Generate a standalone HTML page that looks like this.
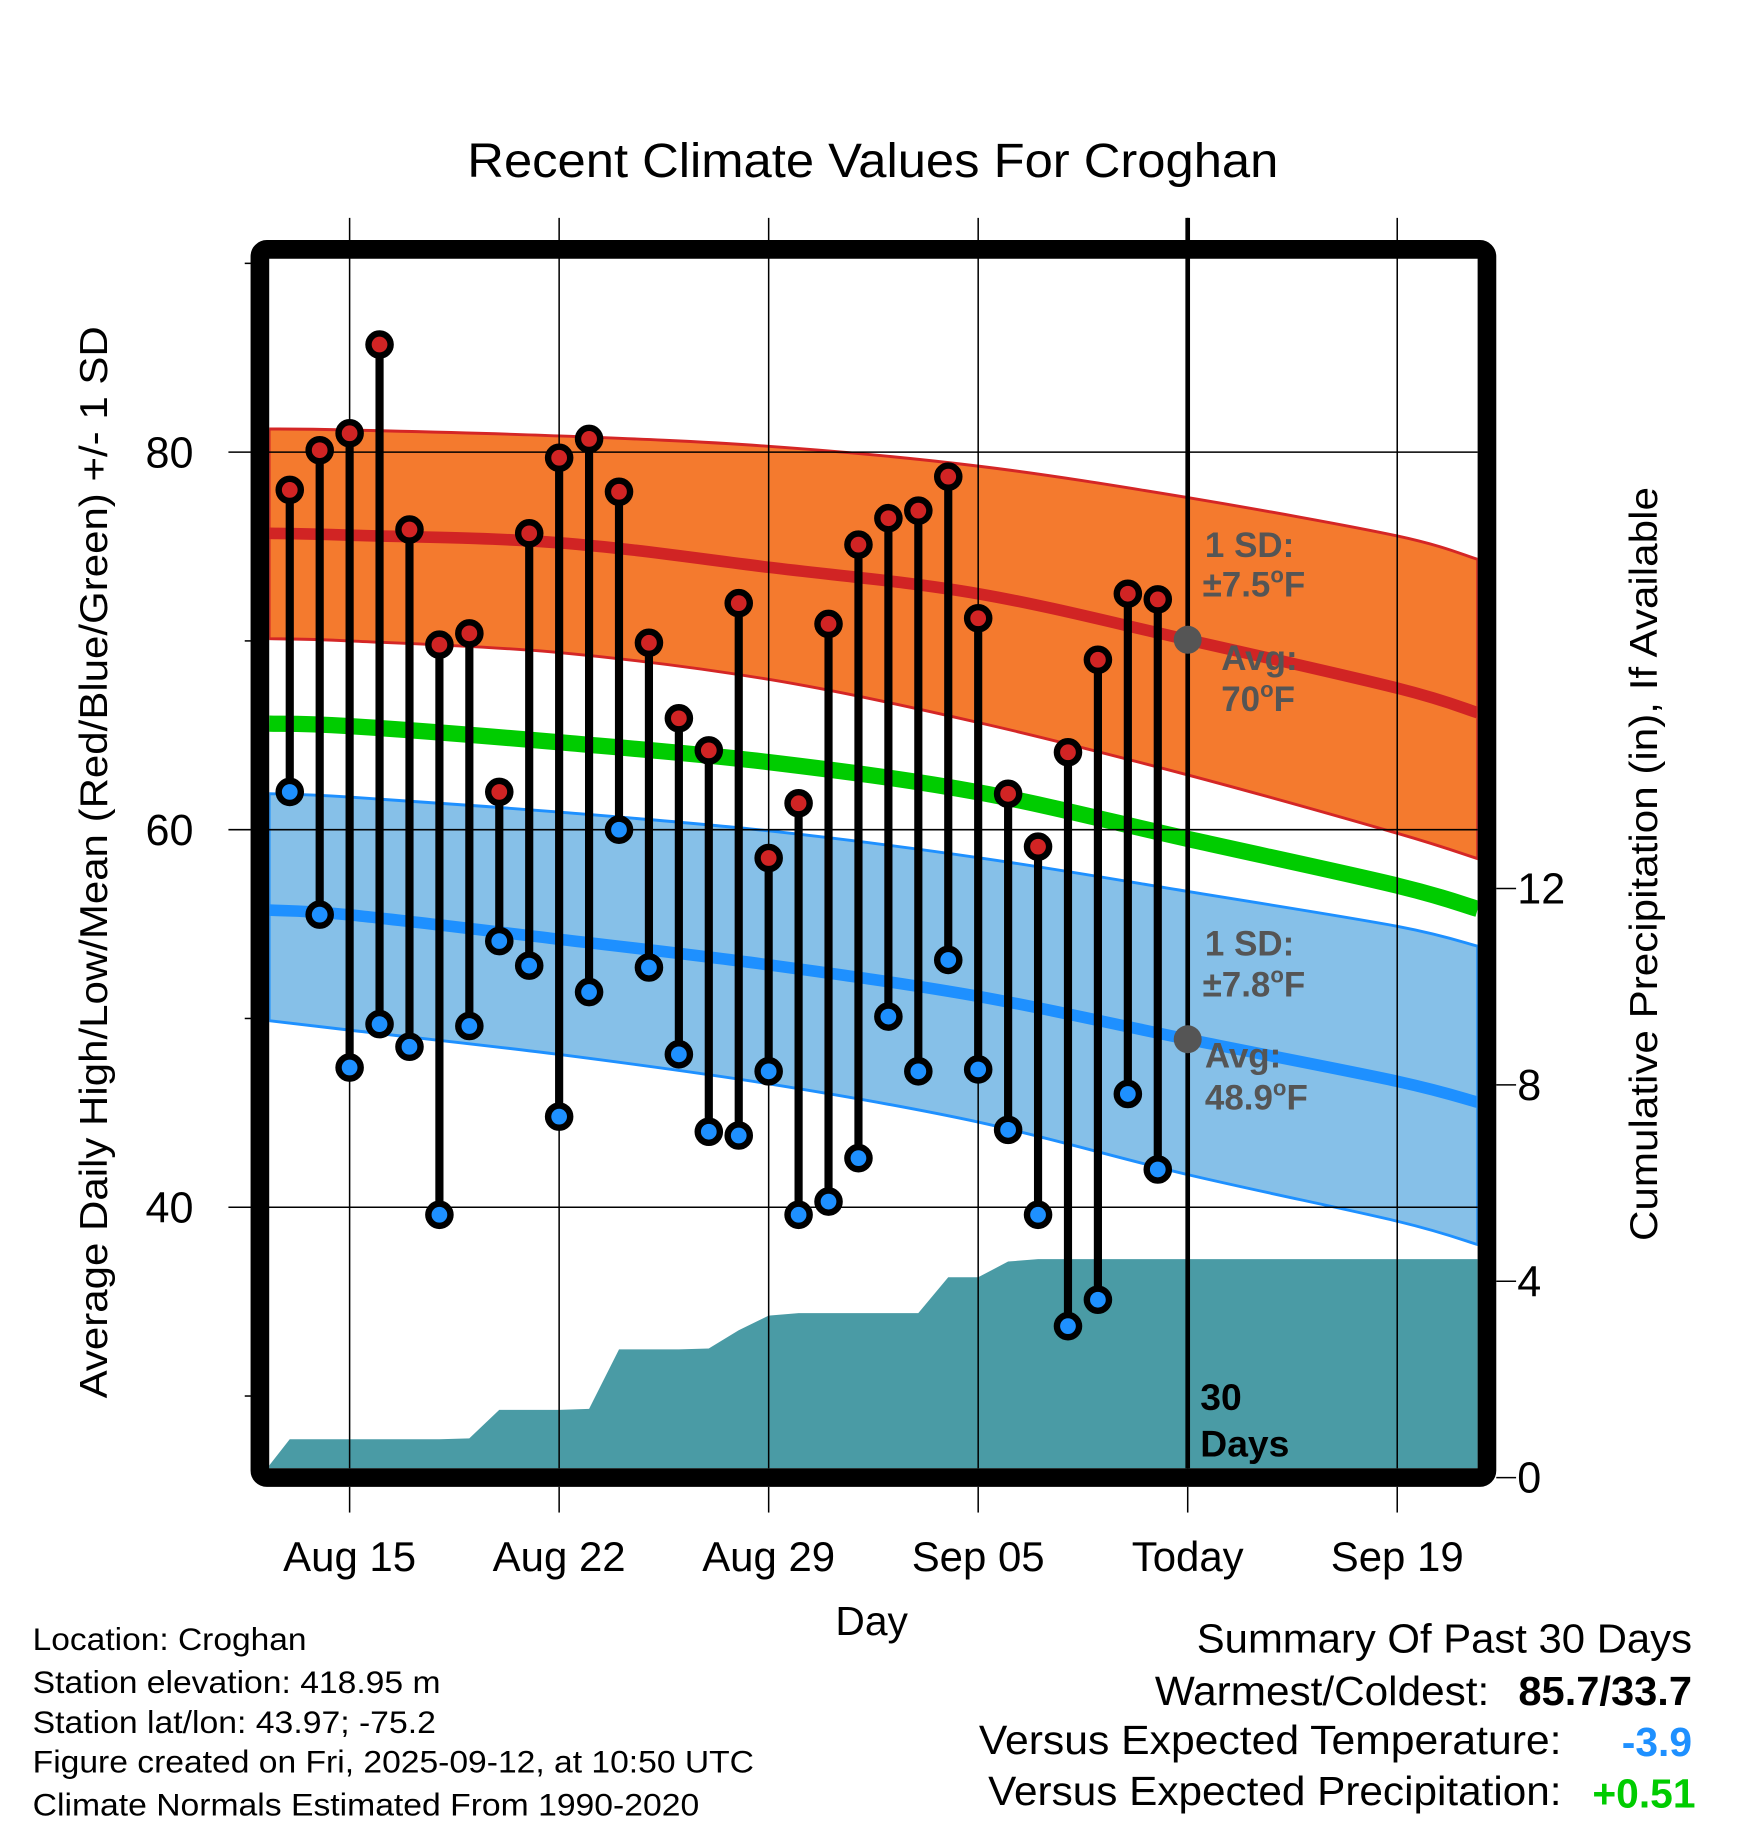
<!DOCTYPE html>
<html><head><meta charset="utf-8"><style>
html,body{margin:0;padding:0;background:#fff;}
svg{display:block;font-family:"Liberation Sans",Arial,sans-serif;}
</style></head><body>
<svg id="chart" width="1748" height="1828" viewBox="0 0 1500 1568.7" xmlns="http://www.w3.org/2000/svg">
<g id="layers"></g>
</svg>
<script>
// ---- data ----
const dayLabels = ["Aug 13","Aug 14","Aug 15","Aug 16","Aug 17","Aug 18","Aug 19","Aug 20","Aug 21","Aug 22","Aug 23","Aug 24","Aug 25","Aug 26","Aug 27","Aug 28","Aug 29","Aug 30","Aug 31","Sep 01","Sep 02","Sep 03","Sep 04","Sep 05","Sep 06","Sep 07","Sep 08","Sep 09","Sep 10","Sep 11"];
const dayOffsets = [-2,-1,0,1,2,3,4,5,6,7,8,9,10,11,12,13,14,15,16,17,18,19,20,21,22,23,24,25,26,27];
const highs = [78.0,80.1,81.0,85.7,75.9,69.8,70.4,62.0,75.7,79.7,80.7,77.9,69.9,65.9,64.2,72.0,58.5,61.4,70.9,75.1,76.5,76.9,78.7,71.2,61.9,59.1,64.1,69.0,72.5,72.2];
const lows = [62.0,55.5,47.4,49.7,48.5,39.6,49.6,54.1,52.8,44.8,51.4,60.0,52.7,48.1,44.0,43.8,47.2,39.6,40.3,42.6,50.1,47.2,53.1,47.3,44.1,39.6,33.7,35.1,46.0,42.0];
const precipDays = [-3,-2,-1,0,1,2,3,4,5,6,7,8,9,10,11,12,13,14,15,16,17,18,19,20,21,22,23,24,25,26,27,37.7];
const precipCum = [0,0.78,0.78,0.78,0.78,0.78,0.78,0.8,1.38,1.38,1.38,1.4,2.61,2.61,2.61,2.63,3.0,3.3,3.35,3.35,3.35,3.35,3.35,4.08,4.08,4.4,4.45,4.45,4.45,4.45,4.45,4.45];
const normDays = [-2.69,0,7,14,21,28,35,37.69];
const highUpper = [81.23,81.17,80.86,80.31,79.26,77.59,75.56,74.32];
const highAvg = [75.7,75.6,75.2,73.9,72.5,70.06,67.5,66.2];
const highLower = [70.12,70.0,69.38,67.96,65.68,62.9,59.81,58.46];
const meanAvg = [65.62,65.49,64.63,63.58,61.98,59.51,57.04,55.8];
const lowUpper = [61.91,61.73,60.93,59.94,58.52,56.73,54.88,53.83];
const lowAvg = [55.74,55.49,54.2,52.84,51.17,48.9,46.67,45.56];
const lowLower = [49.88,49.38,48.09,46.54,44.51,41.73,39.26,38.02];
const xTickDays = [0,7,14,21,28,35];
const xTickLabels = ["Aug 15","Aug 22","Aug 29","Sep 05","Today","Sep 19"];
const yTicks = [80,60,40];
const yMinor = [90,70,50,30];
const pTicks = [0,4,8,12];

// ---- scales ----
const X0=231,X1=1268,Y0=222,Y1=1260;
function xs(d){return 300+d*25.686;}
function ys(v){return 388+(80-v)*16.2;}
function ps(v){return 1268-v*42.13;}
const NS="http://www.w3.org/2000/svg";
const root=document.getElementById('layers');
function mk(tag,attrs,parent){const e=document.createElementNS(NS,tag);for(const k in attrs)e.setAttribute(k,attrs[k]);(parent||root).appendChild(e);return e;}
function smooth(pts,start){
  let p=start?('M'+pts[0][0].toFixed(1)+','+pts[0][1].toFixed(1)):(' L'+pts[0][0].toFixed(1)+','+pts[0][1].toFixed(1));
  for(let i=0;i<pts.length-1;i++){
    const p0=pts[Math.max(0,i-1)],p1=pts[i],p2=pts[i+1],p3=pts[Math.min(pts.length-1,i+2)];
    const c1x=p1[0]+(p2[0]-p0[0])/6,c1y=p1[1]+(p2[1]-p0[1])/6;
    const c2x=p2[0]-(p3[0]-p1[0])/6,c2y=p2[1]-(p3[1]-p1[1])/6;
    p+=' C'+c1x.toFixed(1)+','+c1y.toFixed(1)+' '+c2x.toFixed(1)+','+c2y.toFixed(1)+' '+p2[0].toFixed(1)+','+p2[1].toFixed(1);
  }
  return p;
}
function pts(ds,vs){return ds.map((d,i)=>[xs(d),ys(vs[i])]);}
function linePath(ds,vs){return smooth(pts(ds,vs),true);}
function bandPath(ds,up,lo){return smooth(pts(ds,up),true)+smooth(pts(ds,lo).reverse(),false)+' Z';}

const defs=mk('defs',{});
const cp=mk('clipPath',{id:'plotclip'},defs);
mk('rect',{x:X0,y:Y0,width:X1-X0,height:Y1-Y0},cp);
const plot=mk('g',{'clip-path':'url(#plotclip)'});

let e;
e=mk('path',{d:bandPath(normDays,highUpper,highLower),fill:'#F47A2E',stroke:'#D42626','stroke-width':2.5},plot);


e=mk('path',{d:bandPath(normDays,lowUpper,lowLower),fill:'#86C0E8',stroke:'#1E90FF','stroke-width':2.5},plot);


e=mk('path',{d:linePath(normDays,highAvg),fill:'none',stroke:'#D12424','stroke-width':10},plot);


e=mk('path',{d:linePath(normDays,meanAvg),fill:'none',stroke:'#00CC00','stroke-width':14},plot);


e=mk('path',{d:linePath(normDays,lowAvg),fill:'none',stroke:'#1E90FF','stroke-width':10},plot);



// precip area
let pp='M'+xs(precipDays[0]).toFixed(1)+','+ps(0);
precipDays.forEach((d,i)=>{pp+=' L'+xs(d).toFixed(1)+','+ps(precipCum[i]).toFixed(1);});
pp+=' L'+xs(precipDays[precipDays.length-1]).toFixed(1)+','+ps(0)+' Z';
e=mk('path',{d:pp,fill:'#4A9BA5'},plot);



// gridlines
const grid=mk('g',{stroke:'#000','stroke-width':1.3});
xTickDays.forEach(d=>{const g=mk('line',{x1:xs(d),x2:xs(d),y1:187,y2:Y1},grid);


mk('line',{x1:xs(d),x2:xs(d),y1:1276,y2:1298},grid);});
yTicks.forEach(v=>{const g=mk('line',{x1:196,x2:X1,y1:ys(v),y2:ys(v)},grid);

});
yMinor.forEach(v=>{mk('line',{x1:210,x2:222,y1:ys(v),y2:ys(v)},grid);});
pTicks.forEach(v=>{mk('line',{x1:1284,x2:1301,y1:ps(v),y2:ps(v)},grid);});

// stems and dots
const marks=mk('g',{});
highs.forEach((h,i)=>{const x=xs(dayOffsets[i]);
const s=mk('line',{x1:x,x2:x,y1:ys(h),y2:ys(lows[i]),stroke:'#000','stroke-width':7},marks);

});
highs.forEach((h,i)=>{const x=xs(dayOffsets[i]);
const c=mk('circle',{cx:x,cy:ys(h),r:9.5,fill:'#D12424',stroke:'#000','stroke-width':5.5},marks);


const c2=mk('circle',{cx:x,cy:ys(lows[i]),r:9.5,fill:'#1E90FF',stroke:'#000','stroke-width':5.5},marks);

});

// today line
e=mk('line',{x1:xs(28),x2:xs(28),y1:187,y2:Y1,stroke:'#000','stroke-width':4});


e=mk('circle',{cx:xs(28),cy:ys(highAvg[5]),r:12,fill:'#555'});


e=mk('circle',{cx:xs(28),cy:ys(lowAvg[5]),r:12,fill:'#555'});



// frame
e=mk('rect',{x:223,y:214,width:1053,height:1054,rx:6,fill:'none',stroke:'#000','stroke-width':16});



function txt(s,attrs,name){const t=mk('text',attrs);t.textContent=s;return t;}
yTicks.forEach(v=>txt(String(v),{x:166,y:ys(v)+13,'font-size':37,'text-anchor':'end'},'y-tick-label'));
pTicks.forEach(v=>txt(String(v),{x:1302,y:ps(v)+13,'font-size':37},'precip-tick-label'));
xTickDays.forEach((d,i)=>txt(xTickLabels[i],{x:xs(d),y:1348,'font-size':36,'text-anchor':'middle'},'x-tick-label'));
</script>
<script>
(function(){
const NS="http://www.w3.org/2000/svg";
const root=document.getElementById('layers');
function t(s,a,name,len){const e=document.createElementNS(NS,'text');for(const k in a)e.setAttribute(k,a[k]);
if(len){e.setAttribute('textLength',len);e.setAttribute('lengthAdjust','spacingAndGlyphs');}


e.innerHTML=s;root.appendChild(e);return e;}
t('Recent Climate Values For Croghan',{x:401,y:152,'font-size':41},'chart-title',696);
t('Average Daily High/Low/Mean (Red/Blue/Green) +/- 1 SD',{x:0,y:0,'font-size':33,transform:'translate(92,1200) rotate(-90)'},'y-axis-title',920);
t('Cumulative Precipitation (in), If Available',{x:0,y:0,'font-size':33,transform:'translate(1422,1065) rotate(-90)'},'precip-axis-title',647);
t('Day',{x:748,y:1403,'font-size':35,'text-anchor':'middle'},'x-axis-title');
const g={'font-size':30,'font-weight':'bold',fill:'#555'};
function ga(x,y){return Object.assign({x:x,y:y},g);}
t('1 SD:',ga(1034,478),'high-sd-label');
t('±7.5<tspan font-size="19" dy="-12">o</tspan><tspan dy="12">F</tspan>',ga(1032,512),'high-sd-value');
t('Avg:',ga(1048,575),'high-avg-label');
t('70<tspan font-size="19" dy="-12">o</tspan><tspan dy="12">F</tspan>',ga(1048,610),'high-avg-value');
t('1 SD:',ga(1034,820),'low-sd-label');
t('±7.8<tspan font-size="19" dy="-12">o</tspan><tspan dy="12">F</tspan>',ga(1032,855),'low-sd-value');
t('Avg:',ga(1034,916),'low-avg-label');
t('48.9<tspan font-size="19" dy="-12">o</tspan><tspan dy="12">F</tspan>',ga(1034,952),'low-avg-value');
t('30',{x:1030,y:1210,'font-size':32,'font-weight':'bold'},'days-count-label');
t('Days',{x:1030,y:1250,'font-size':32,'font-weight':'bold'},'days-label');
const foot=['Location: Croghan','Station elevation: 418.95 m','Station lat/lon: 43.97; -75.2','Figure created on Fri, 2025-09-12, at 10:50 UTC','Climate Normals Estimated From 1990-2020'];
const fw=[235,350,346,619,572];
const fy=[1416,1453,1487,1521,1558];
foot.forEach((s,i)=>t(s,{x:28,y:fy[i],'font-size':27},'footer-info-line',fw[i]));
t('Summary Of Past 30 Days',{x:1027,y:1418,'font-size':35},'summary-title',425);
t('Warmest/Coldest:',{x:991,y:1463,'font-size':35},'summary-warmest-label',287);
t('85.7/33.7',{x:1303,y:1463,'font-size':35,'font-weight':'bold'},'summary-warmest-value',149);
t('Versus Expected Temperature:',{x:840,y:1505,'font-size':35},'summary-temp-label',500);
t('-3.9',{x:1452,y:1507,'font-size':35,'font-weight':'bold','text-anchor':'end',fill:'#1E90FF'},'summary-temp-value');
t('Versus Expected Precipitation:',{x:848,y:1549,'font-size':35},'summary-precip-label',492);
t('+0.51',{x:1455,y:1551,'font-size':35,'font-weight':'bold','text-anchor':'end',fill:'#00CC00'},'summary-precip-value');
})();
</script>
</body></html>
